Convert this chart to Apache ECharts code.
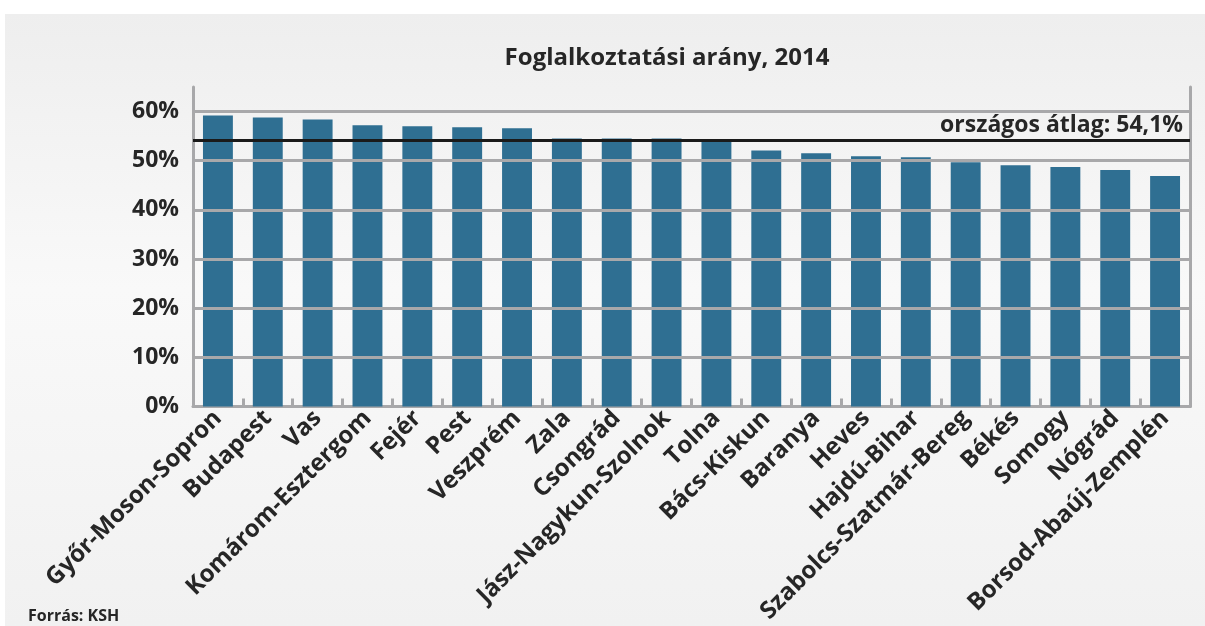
<!DOCTYPE html>
<html>
<head>
<meta charset="utf-8">
<script src="https://cdn.jsdelivr.net/npm/echarts@6/dist/echarts.min.js"></script>
<style>
  html, body { margin: 0; padding: 0; background: #ffffff; }
  #chart { width: 1205px; height: 626px; }
</style>
</head>
<body>
<div id="chart"></div>
<script>
// Foglalkoztatási arány megyénként, 2014 (%)
const regions = [
  'Győr-Moson-Sopron', 'Budapest', 'Vas', 'Komárom-Esztergom', 'Fejér', 'Pest',
  'Veszprém', 'Zala', 'Csongrád', 'Jász-Nagykun-Szolnok', 'Tolna', 'Bács-Kiskun',
  'Baranya', 'Heves', 'Hajdú-Bihar', 'Szabolcs-Szatmár-Bereg', 'Békés', 'Somogy',
  'Nógrád', 'Borsod-Abaúj-Zemplén'
];
const employmentRate = [
  59.2, 58.8, 58.4, 57.2, 57.0, 56.8,
  56.6, 54.5, 54.5, 54.5, 54.0, 52.1,
  51.5, 50.9, 50.7, 49.7, 49.1, 48.7,
  48.1, 46.9
];
const nationalAverage = 54.1;
const gridLevels = [10, 20, 30, 40, 50, 60];

const FONT = '"Open Sans", "DejaVu Sans", sans-serif';
const GRID_GRAY = '#a8a8aa';
const TEXT = '#262626';

const chart = echarts.init(document.getElementById('chart'), null, { renderer: 'canvas' });

chart.setOption({
  animation: false,
  backgroundColor: '#ffffff',
  graphic: [
    {
      type: 'rect',
      z: -10,
      shape: { x: 5, y: 14, width: 1200, height: 612 },
      style: {
        fill: new echarts.graphic.LinearGradient(0, 0, 0, 1, [
          { offset: 0, color: '#eeeeee' },
          { offset: 0.45, color: '#f9f9f9' },
          { offset: 1, color: '#f1f1f1' }
        ])
      },
      silent: true
    },
    {
      type: 'text',
      x: 667,
      y: 46,
      style: {
        text: 'Foglalkoztatási arány, 2014',
        font: 'bold 24px ' + FONT,
        fill: TEXT,
        align: 'center'
      }
    },
    {
      type: 'text',
      left: 28,
      top: 608,
      style: { text: 'Forrás: KSH', font: 'bold 16px ' + FONT, fill: TEXT }
    }
  ],
  grid: { left: 193, right: 15, top: 87, bottom: 217, containLabel: false },
  xAxis: {
    type: 'category',
    data: regions,
    axisLine: { show: true, lineStyle: { color: GRID_GRAY, width: 3 } },
    axisTick: { show: true, inside: true, length: 8, lineStyle: { color: GRID_GRAY, width: 3 } },
    axisLabel: {
      interval: 0,
      rotate: 45,
      margin: 8,
      fontFamily: FONT,
      fontWeight: 'bold',
      fontSize: 24,
      color: TEXT
    }
  },
  yAxis: [
    {
      type: 'value',
      min: 0,
      max: 65,
      interval: 10,
      axisLine: { show: true, lineStyle: { color: GRID_GRAY, width: 3 } },
      axisTick: { show: false },
      splitLine: { show: false },
      axisLabel: {
        showMaxLabel: false,
        margin: 14,
        padding: [6, 0, 0, 0],
        formatter: v => v + '%',
        fontFamily: FONT,
        fontWeight: 'bold',
        fontSize: 23,
        color: TEXT
      }
    },
    {
      type: 'value',
      min: 0,
      max: 65,
      interval: 10,
      position: 'right',
      axisLine: { show: true, lineStyle: { color: GRID_GRAY, width: 3 } },
      axisTick: { show: false },
      axisLabel: { show: false },
      splitLine: { show: false }
    }
  ],
  series: [
    {
      // horizontal gridlines behind the bars
      type: 'line',
      data: [],
      z: 1,
      silent: true,
      markLine: {
        silent: true,
        symbol: 'none',
        label: { show: false },
        lineStyle: { color: GRID_GRAY, width: 3, type: 'solid' },
        data: gridLevels.map(v => ({ yAxis: v }))
      }
    },
    {
      type: 'bar',
      data: employmentRate,
      z: 2,
      barWidth: '60%',
      itemStyle: { color: '#2f6f92' },
      markLine: {
        silent: true,
        symbol: 'none',
        z: 10,
        lineStyle: { color: '#1a1a1a', width: 3, type: 'solid' },
        label: {
          show: true,
          position: 'insideEndTop',
          distance: [7, 4],
          formatter: p => 'országos átlag: ' + p.value.toFixed(1).replace('.', ',') + '%',
          fontFamily: FONT,
          fontWeight: 'bold',
          fontSize: 23,
          color: TEXT
        },
        data: [{ yAxis: nationalAverage }]
      }
    }
  ]
});
</script>
</body>
</html>
